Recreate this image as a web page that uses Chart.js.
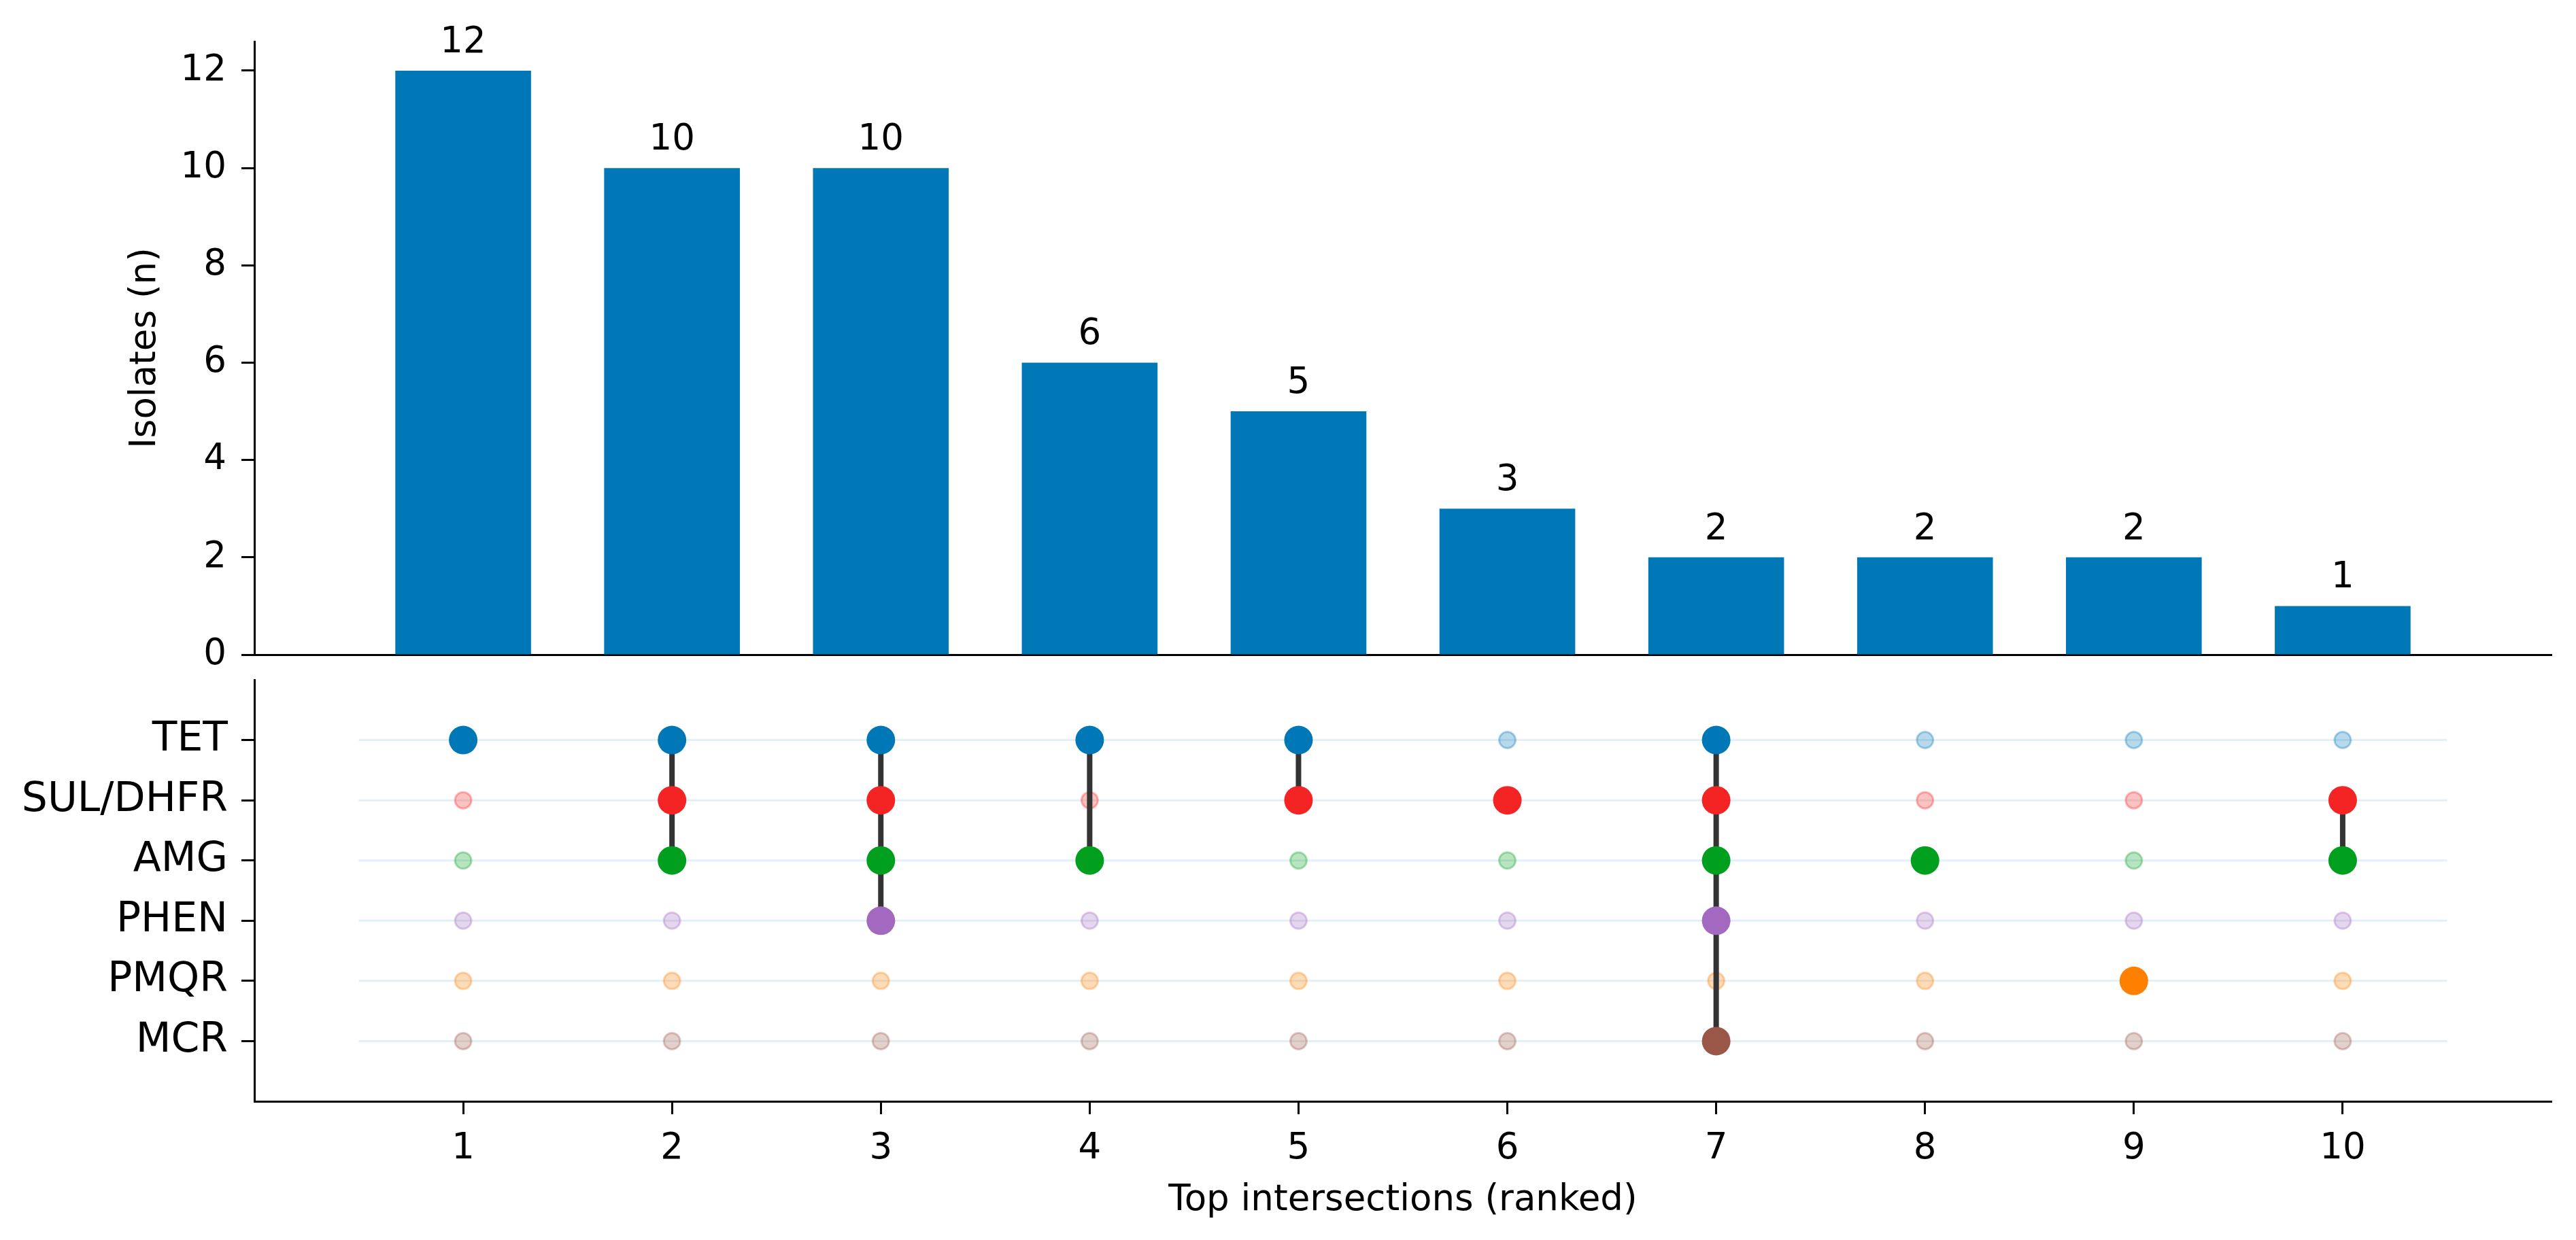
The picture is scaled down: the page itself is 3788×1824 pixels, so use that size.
<!DOCTYPE html>
<html>
<head>
<meta charset="utf-8">
<script src="https://cdn.jsdelivr.net/npm/chart.js@4.4.1/dist/chart.umd.min.js"></script>
<style>
  html, body { margin: 0; padding: 0; background: #ffffff; overflow: hidden; }
  #wrap { position: relative; width: 3788px; height: 1824px; background: #ffffff; }
  canvas { position: absolute; left: 0; top: 0; }
</style>
</head>
<body>
<div id="wrap">
  <canvas id="matrix" width="3788" height="1824"></canvas>
  <canvas id="bars" width="3788" height="1824"></canvas>
</div>
<script>
// ---------------- data ----------------
const intersections = [1, 2, 3, 4, 5, 6, 7, 8, 9, 10];
const counts = [12, 10, 10, 6, 5, 3, 2, 2, 2, 1];
const countTicks = [0, 2, 4, 6, 8, 10, 12];
const setNames = ['TET', 'SUL/DHFR', 'AMG', 'PHEN', 'PMQR', 'MCR'];
const setColors = ['#0077b7', '#f42424', '#00a01e', '#a368c0', '#ff7f00', '#9a5646'];
const memTET  = [1, 1, 1, 1, 1, 0, 1, 0, 0, 0];
const memSUL  = [0, 1, 1, 0, 1, 1, 1, 0, 0, 1];
const memAMG  = [0, 1, 1, 1, 0, 0, 1, 1, 0, 1];
const memPHEN = [0, 0, 1, 0, 0, 0, 1, 0, 0, 0];
const memPMQR = [0, 0, 0, 0, 0, 0, 0, 0, 1, 0];
const memMCR  = [0, 0, 0, 0, 0, 0, 1, 0, 0, 0];
const membership = [memTET, memSUL, memAMG, memPHEN, memPMQR, memMCR];
const yLabel = 'Isolates (n)';
const xLabel = 'Top intersections (ranked)';

// ---------------- helpers ----------------
const FONT = "'DejaVu Sans', sans-serif";
const FS = 53;        // general text size
const FS_ROWS = 60;   // row label size
function rgba(hex, a) {
  const n = parseInt(hex.slice(1), 16);
  return `rgba(${(n >> 16) & 255},${(n >> 8) & 255},${n & 255},${a})`;
}
const AXIS_W = 374;     // width reserved for the left axis
const RIGHT_PAD = 36;

// ---------------- top: bars ----------------
const barLabelPlugin = {
  id: 'barLabels',
  afterDatasetsDraw(chart) {
    const ctx = chart.ctx;
    const meta = chart.getDatasetMeta(0);
    ctx.save();
    ctx.fillStyle = '#000000';
    ctx.font = `${FS}px ${FONT}`;
    ctx.textAlign = 'center';
    ctx.textBaseline = 'alphabetic';
    meta.data.forEach((bar, i) => {
      ctx.fillText(String(counts[i]), bar.x, bar.y - 27);
    });
    ctx.restore();
  }
};

new Chart(document.getElementById('bars'), {
  type: 'bar',
  data: {
    datasets: [{
      data: intersections.map((x, i) => ({ x: x, y: counts[i] })),
      backgroundColor: '#0077b7',
      borderWidth: 0,
      barPercentage: 0.65,
      categoryPercentage: 1.0
    }]
  },
  options: {
    responsive: false,
    animation: false,
    events: [],
    layout: { padding: { left: 0, right: RIGHT_PAD, top: 61, bottom: 861 } },
    plugins: { legend: { display: false }, tooltip: { enabled: false } },
    scales: {
      x: {
        type: 'linear', min: 0, max: 11, offset: false,
        grid: { display: false },
        ticks: { display: false },
        border: { display: true, color: '#000000', width: 3 },
        afterFit(scale) { scale.height = 0; }
      },
      y: {
        type: 'linear', min: 0, max: 12.6,
        afterBuildTicks(scale) { scale.ticks = countTicks.map(v => ({ value: v })); },
        afterFit(scale) { scale.width = AXIS_W; },
        grid: { display: true, drawOnChartArea: false, drawTicks: true, tickLength: 19, tickWidth: 3, tickColor: '#000000' },
        border: { display: true, color: '#000000', width: 3 },
        ticks: { color: '#000000', font: { family: FONT, size: FS }, padding: 22 },
        title: { display: true, text: yLabel, color: '#000000', font: { family: FONT, size: FS }, padding: { top: 182, bottom: 0 } }
      }
    }
  },
  plugins: [barLabelPlugin]
});

// ---------------- bottom: matrix ----------------
const datasets = [];

const activePts = [], activeCols = [];
const inactivePts = [], inactiveFill = [], inactiveEdge = [];
membership.forEach((row, r) => {
  row.forEach((m, i) => {
    const p = { x: intersections[i], y: r };
    if (m) { activePts.push(p); activeCols.push(setColors[r]); }
    else { inactivePts.push(p); inactiveFill.push(rgba(setColors[r], 0.28)); inactiveEdge.push(rgba(setColors[r], 0.32)); }
  });
});
// active dots (front)
datasets.push({
  type: 'scatter',
  data: activePts,
  pointRadius: 21,
  pointBorderWidth: 0,
  pointBackgroundColor: activeCols,
  pointBorderColor: activeCols
});

// connectors
intersections.forEach((x, i) => {
  const rows = membership.map((row, r) => row[i] ? r : -1).filter(r => r >= 0);
  if (rows.length > 1) {
    datasets.push({
      type: 'line',
      data: [{ x: x, y: Math.min(...rows) }, { x: x, y: Math.max(...rows) }],
      borderColor: '#333333',
      borderWidth: 8,
      pointRadius: 0,
      fill: false
    });
  }
});

// inactive dots
datasets.push({
  type: 'scatter',
  data: inactivePts,
  pointRadius: 12,
  pointBorderWidth: 3,
  pointBackgroundColor: inactiveFill,
  pointBorderColor: inactiveEdge
});

// row guide lines (back)
setNames.forEach((name, r) => {
  datasets.push({
    type: 'line',
    data: [{ x: 0.5, y: r }, { x: 10.5, y: r }],
    borderColor: 'rgba(0,119,183,0.11)',
    borderWidth: 3,
    pointRadius: 0,
    fill: false
  });
});

new Chart(document.getElementById('matrix'), {
  type: 'scatter',
  data: { datasets: datasets },
  options: {
    responsive: false,
    animation: false,
    events: [],
    layout: { padding: { left: 0, right: RIGHT_PAD, top: 1000, bottom: 26 } },
    plugins: { legend: { display: false }, tooltip: { enabled: false } },
    scales: {
      x: {
        type: 'linear', min: 0, max: 11,
        afterBuildTicks(scale) { scale.ticks = intersections.map(v => ({ value: v })); },
        afterFit(scale) { scale.height = 178; },
        grid: { display: true, drawOnChartArea: false, drawTicks: true, tickLength: 19, tickWidth: 3, tickColor: '#000000' },
        border: { display: true, color: '#000000', width: 3 },
        ticks: { color: '#000000', font: { family: FONT, size: FS }, padding: 19, maxRotation: 0, autoSkip: false },
        title: { display: true, text: xLabel, color: '#000000', font: { family: FONT, size: FS }, padding: { top: 0, bottom: 0 } }
      },
      y: {
        type: 'linear', min: -1, max: 6, reverse: true,
        afterBuildTicks(scale) { scale.ticks = setNames.map((n, r) => ({ value: r })); },
        afterFit(scale) { scale.width = AXIS_W; },
        grid: { display: true, drawOnChartArea: false, drawTicks: true, tickLength: 19, tickWidth: 3, tickColor: '#000000' },
        border: { display: true, color: '#000000', width: 3 },
        ticks: {
          color: '#000000', font: { family: FONT, size: FS_ROWS }, padding: 20, autoSkip: false,
          callback(value) { return setNames[value] !== undefined ? setNames[value] : ''; }
        }
      }
    }
  }
});
</script>
</body>
</html>
